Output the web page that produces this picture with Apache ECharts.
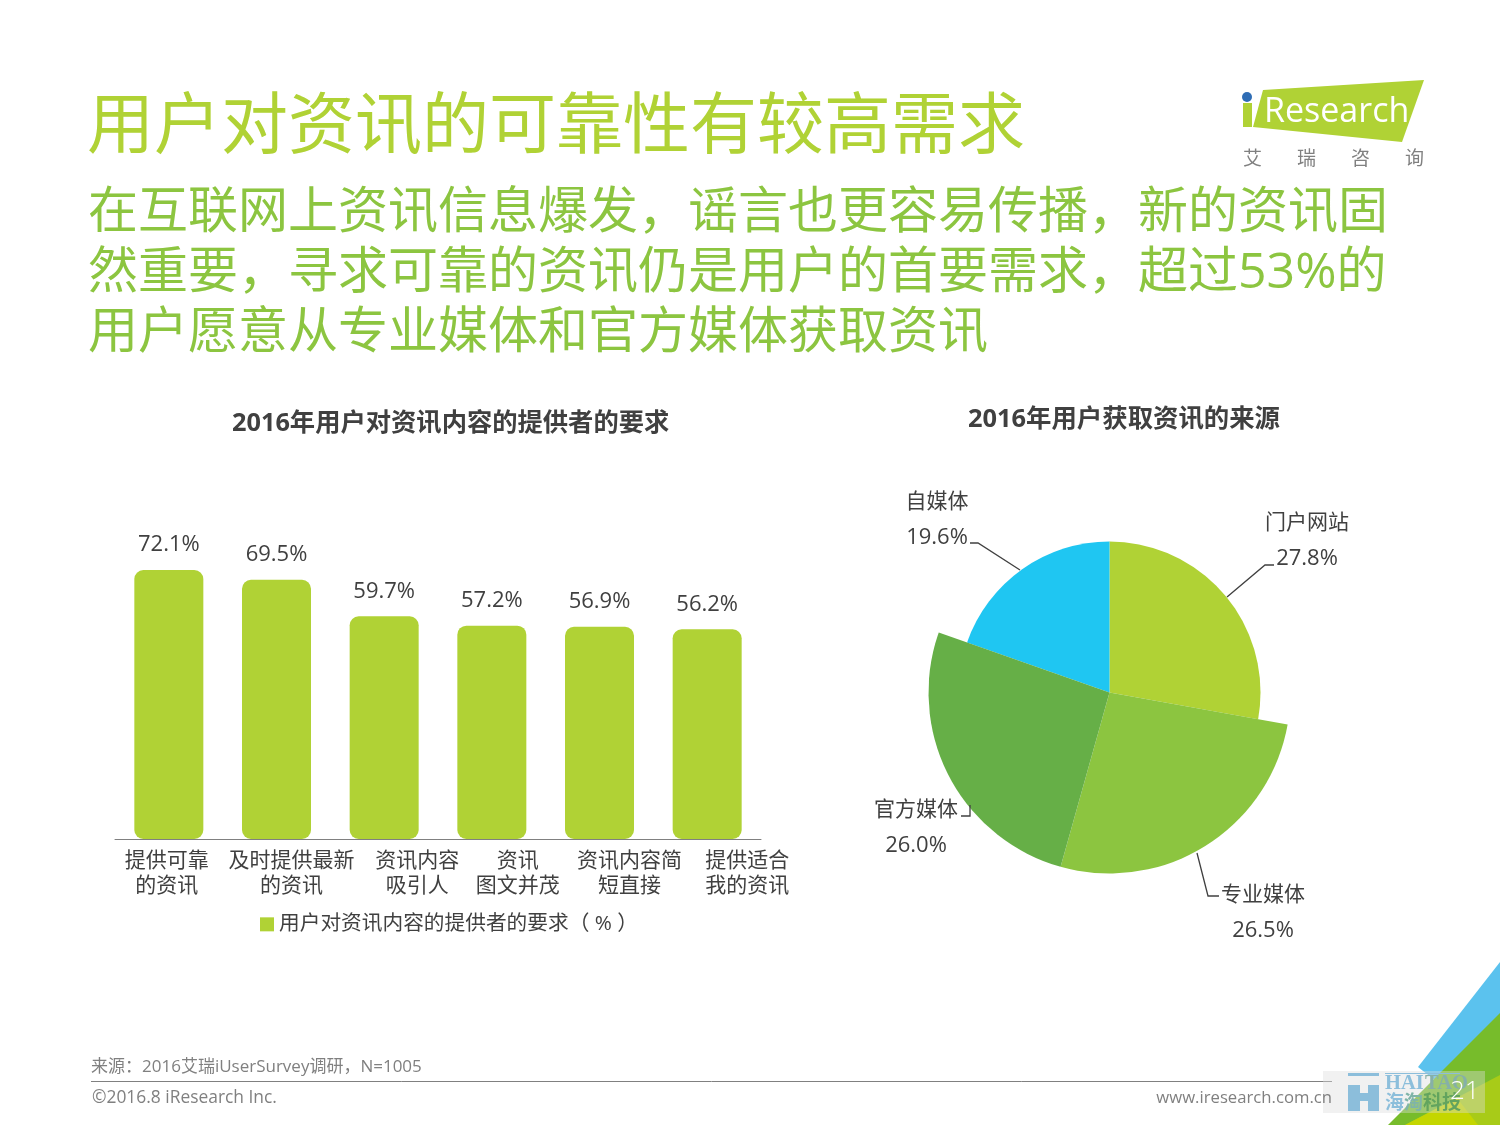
<!DOCTYPE html>
<html>
<head>
<meta charset="utf-8">
<style>
    html, body { margin: 0; padding: 0; background: #fff; }
    #chart { width: 1500px; height: 1125px; }
</style>
<script src="https://cdn.jsdelivr.net/npm/echarts@6/dist/echarts.min.js"></script>
</head>
<body>
<div id="chart"></div>
<script>
const barCategories = ['提供可靠\n的资讯', '及时提供最新\n的资讯', '资讯内容\n吸引人', '资讯\n图文并茂', '资讯内容简\n短直接', '提供适合\n我的资讯'];
const barValues = [72.1, 69.5, 59.7, 57.2, 56.9, 56.2];
const barSeriesName = '用户对资讯内容的提供者的要求（ % ）';

const pieNames = ['门户网站', '专业媒体', '官方媒体', '自媒体'];
const pieValues = [27.8, 26.5, 26.0, 19.6];
const pieColors = ['#B0D235', '#8CC540', '#66AF47', '#1FC6F2'];
const pieBigSlices = [false, true, true, false];

// the reference labels sit off-centre from their bars
const labelShift = [-2, 15, 33, 26, 30, 40];
const pieLabelPos = [[1307, 541], [1263, 913], [916, 828], [937, 520]];

const FONT = '"Open Sans","Noto Sans CJK SC",sans-serif';
const TEXT = '#404040';
const WATERMARK = '#8CBEDB';
const SERIF_BOLD = { fontFamily: '"Liberation Serif",serif', fontWeight: 'bold' };
const CJK_BOLD = { fontFamily: '"Noto Sans CJK SC",sans-serif', fontWeight: 'bold' };

function pieSeries(big) {
    return {
        type: 'pie',
        center: [1109.5, 692.5],
        radius: [0, big ? 181 : 151],
        startAngle: 90,
        silent: true,
        animation: false,
        z: big ? 3 : 2,
        label: {
            show: true,
            formatter: p => '{n|' + p.name + '}\n{v|' + p.value.toFixed(1) + '%}',
            rich: {
                n: { fontFamily: FONT, fontSize: 21, color: TEXT, lineHeight: 36, align: 'center' },
                v: { fontFamily: FONT, fontSize: 22, color: TEXT, lineHeight: 36, align: 'center' }
            }
        },
        labelLine: { show: false },
        labelLayout: params => {
            const pos = pieLabelPos[params.dataIndex];
            return { x: pos[0], y: pos[1], align: 'center', verticalAlign: 'middle' };
        },
        data: pieNames.map((name, i) => {
            const visible = pieBigSlices[i] === big;
            return {
                name: name,
                value: pieValues[i],
                itemStyle: { color: visible ? pieColors[i] : 'transparent' },
                label: { show: visible }
            };
        })
    };
}

function leader(points) {
    return {
        type: 'polyline',
        z: 5,
        shape: { points: points },
        style: { stroke: '#404040', lineWidth: 1.3, fill: null }
    };
}

function plainText(x, y, text, size, color, extra) {
    return {
        type: 'text',
        x: x,
        y: y,
        z: 6,
        style: Object.assign({
            text: text,
            fontFamily: FONT,
            fontSize: size,
            fill: color,
            verticalAlign: 'middle'
        }, extra || {})
    };
}

function poly(points, color, z) {
    return { type: 'polygon', z: z || 1, shape: { points: points }, style: { fill: color } };
}

const chart = echarts.init(document.getElementById('chart'), null, { renderer: 'canvas' });

chart.setOption({
    animation: false,
    backgroundColor: '#fff',
    title: [
        {
            text: '用户对资讯的可靠性有较高需求',
            left: 82, top: 84,
            textStyle: { fontFamily: FONT, fontSize: 67, fontWeight: 400, color: '#B0D235', lineHeight: 80 }
        },
        {
            text: '在互联网上资讯信息爆发，谣言也更容易传播，新的资讯固\n然重要，寻求可靠的资讯仍是用户的首要需求，超过53%的\n用户愿意从专业媒体和官方媒体获取资讯',
            left: 83, top: 179,
            textStyle: { fontFamily: FONT, fontSize: 50, fontWeight: 400, color: '#8CC540', lineHeight: 60 }
        },
        {
            text: '2016年用户对资讯内容的提供者的要求',
            left: 227, top: 402,
            textStyle: { fontFamily: FONT, fontSize: 25.3, fontWeight: 'bold', color: TEXT, lineHeight: 34 }
        },
        {
            text: '2016年用户获取资讯的来源',
            left: 963, top: 398,
            textStyle: { fontFamily: FONT, fontSize: 25.4, fontWeight: 'bold', color: TEXT, lineHeight: 34 }
        }
    ],
    legend: {
        data: [barSeriesName],
        left: 255, top: 909,
        icon: 'rect',
        itemWidth: 14, itemHeight: 14, itemGap: 5,
        selectedMode: false,
        textStyle: { fontFamily: FONT, fontSize: 20.7, color: TEXT }
    },
    grid: { left: 115, top: 466, width: 646, height: 373, containLabel: false },
    xAxis: {
        type: 'category',
        data: barCategories.map((c, i) => ({
            value: c,
            textStyle: {
                padding: labelShift[i] >= 0 ? [0, 0, 0, labelShift[i] * 2] : [0, -labelShift[i] * 2, 0, 0]
            }
        })),
        axisTick: { show: false },
        axisLine: { lineStyle: { color: '#808080', width: 1 } },
        axisLabel: {
            interval: 0,
            margin: 10,
            hideOverlap: false,
            fontFamily: FONT,
            fontSize: 21,
            lineHeight: 25,
            color: TEXT
        }
    },
    yAxis: { type: 'value', min: 0, max: 100, show: false, splitLine: { show: false } },
    series: [
        {
            name: barSeriesName,
            type: 'bar',
            data: barValues,
            barWidth: 69,
            itemStyle: { color: '#B0D235', borderRadius: 9 },
            label: {
                show: true,
                position: 'top',
                distance: 14,
                formatter: p => p.value.toFixed(1) + '%',
                fontFamily: FONT,
                fontSize: 22,
                color: TEXT
            }
        },
        pieSeries(false),
        pieSeries(true)
    ],
    graphic: [
        // pie leader lines
        leader([[1227, 597], [1265, 565], [1274, 565]]),
        leader([[1197, 853], [1208, 896], [1219, 896]]),
        leader([[970, 805], [970, 816], [961, 816]]),
        leader([[1020, 570], [978, 543], [970, 543]]),

        // logo
        poly([[1263, 90], [1424, 80], [1402, 142], [1253, 127]], '#B0D235', 2),
        poly([[1243, 103], [1252, 103], [1252, 127], [1243, 127]], '#B0D235', 2),
        { type: 'circle', z: 3, shape: { cx: 1247, cy: 97, r: 5 }, style: { fill: '#2F6DB5' } },
        plainText(1264, 112, 'Research', 34, '#fff'),
        plainText(1243, 160, '艾', 19, '#808080'),
        plainText(1297, 160, '瑞', 19, '#808080'),
        plainText(1351, 160, '咨', 19, '#808080'),
        plainText(1405, 160, '询', 19, '#808080'),

        // footer
        plainText(91, 1067, '来源：2016艾瑞iUserSurvey调研，N=1005', 17, '#808080'),
        { type: 'line', z: 2, shape: { x1: 91, y1: 1081.5, x2: 1332, y2: 1081.5 }, style: { stroke: '#808080', lineWidth: 1 } },
        plainText(92, 1098, '©2016.8 iResearch Inc.', 17.4, '#808080'),
        plainText(1332, 1098, 'www.iresearch.com.cn', 16.7, '#808080', { align: 'right' }),

        // corner decoration
        poly([[1500, 962], [1418, 1067], [1460, 1100], [1500, 1060]], '#5BC2EE', 1),
        poly([[1500, 1013], [1388, 1125], [1500, 1125]], '#77BC2B', 2),
        poly([[1500, 1075], [1405, 1125], [1500, 1125]], '#A8CB18', 3),
        poly([[1457, 1098], [1405, 1125], [1478, 1125]], '#C4D600', 3),

        // watermark, its text goes darker where it crosses the green corner
        { type: 'rect', z: 4, shape: { x: 1323, y: 1071, width: 162, height: 42 }, style: { fill: 'rgba(220,220,220,0.4)' } },
        { type: 'rect', z: 5, shape: { x: 1348, y: 1073, width: 31, height: 3 }, style: { fill: WATERMARK } },
        { type: 'rect', z: 5, shape: { x: 1348, y: 1085, width: 12, height: 26 }, style: { fill: WATERMARK } },
        { type: 'rect', z: 5, shape: { x: 1368, y: 1085, width: 11, height: 26 }, style: { fill: WATERMARK } },
        { type: 'rect', z: 5, shape: { x: 1360, y: 1093, width: 8, height: 8 }, style: { fill: WATERMARK } },
        { type: 'line', z: 5, shape: { x1: 1385, y1: 1073.5, x2: 1460, y2: 1073.5 }, style: { stroke: WATERMARK, lineWidth: 1 } },
        plainText(1385, 1084, 'HAI', 20.5, WATERMARK, SERIF_BOLD),
        plainText(1425, 1084, 'TAO', 20.5, '#86B0A8', SERIF_BOLD),
        plainText(1385, 1102, '海', 19, WATERMARK, CJK_BOLD),
        plainText(1404, 1102, '淘', 19, '#7FB4A8', CJK_BOLD),
        plainText(1423, 1102, '科', 19, '#62A45E', CJK_BOLD),
        plainText(1442, 1102, '技', 19, '#62A45E', CJK_BOLD),
        plainText(1450, 1092, '21', 26, '#fff', { fontWeight: 300 })
    ]
});

window.addEventListener('resize', () => chart.resize());
</script>
</body>
</html>
